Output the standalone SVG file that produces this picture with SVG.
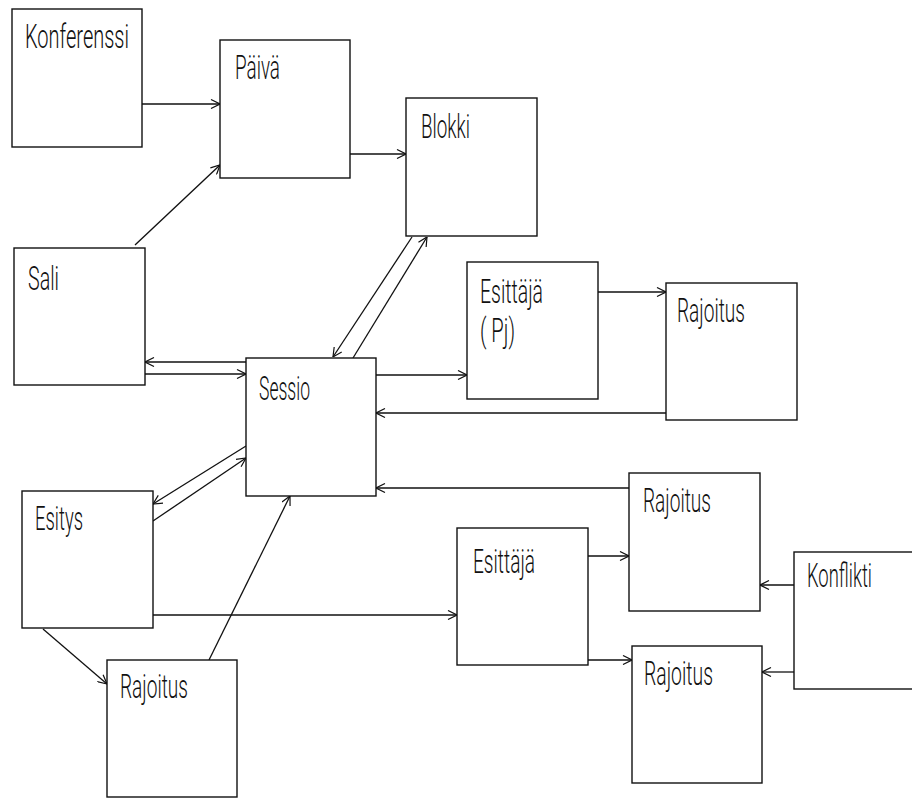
<svg xmlns="http://www.w3.org/2000/svg" width="912" height="801" viewBox="0 0 912 801">
<style>
.box{fill:#fff;stroke:#111;stroke-width:1.4}
.lbl{font-family:Roboto,"DejaVu Sans Condensed",sans-serif;font-weight:300;font-size:33px;fill:#111}
.c{fill:none;stroke:#111;stroke-width:1.3;marker-end:url(#a)}
</style>
<defs>
<marker id="a" viewBox="0 0 10 10" refX="10" refY="5" markerWidth="10" markerHeight="10" markerUnits="userSpaceOnUse" orient="auto">
<path d="M1,0.5 L10,5 L1,9.5" fill="none" stroke="#111" stroke-width="1.2"/>
</marker>
</defs>
<rect width="912" height="801" fill="#fff"/>
<g id="connectors">
<line class="c" x1="142" y1="104" x2="220" y2="104"/>
<line class="c" x1="135" y1="245" x2="220" y2="165"/>
<line class="c" x1="350" y1="154" x2="406" y2="154"/>
<line class="c" x1="412" y1="237" x2="333" y2="357"/>
<line class="c" x1="353" y1="358" x2="427" y2="237"/>
<line class="c" x1="246" y1="362" x2="145" y2="362"/>
<line class="c" x1="145" y1="374" x2="246" y2="374"/>
<line class="c" x1="376" y1="375" x2="467" y2="375"/>
<line class="c" x1="598" y1="292" x2="666" y2="292"/>
<line class="c" x1="666" y1="413" x2="376" y2="413"/>
<line class="c" x1="629" y1="488" x2="376" y2="488"/>
<line class="c" x1="246" y1="446" x2="153" y2="504"/>
<line class="c" x1="153" y1="521" x2="246" y2="458"/>
<line class="c" x1="153" y1="615" x2="457" y2="615"/>
<line class="c" x1="43" y1="629" x2="107" y2="684"/>
<line class="c" x1="209" y1="660" x2="290" y2="496"/>
<line class="c" x1="588" y1="556" x2="629" y2="556"/>
<line class="c" x1="588" y1="660" x2="632" y2="660"/>
<line class="c" x1="794" y1="585" x2="760" y2="585"/>
<line class="c" x1="794" y1="672" x2="762" y2="672"/>
</g>
<g id="konferenssi"><rect class="box" x="12" y="9" width="130" height="138"/><text class="lbl" x="25" y="48" textLength="104" lengthAdjust="spacingAndGlyphs">Konferenssi</text></g>
<g id="paiva"><rect class="box" x="220" y="40" width="130" height="138"/><text class="lbl" x="235" y="79" textLength="45" lengthAdjust="spacingAndGlyphs">Päivä</text></g>
<g id="blokki"><rect class="box" x="406" y="98" width="131" height="138"/><text class="lbl" x="421" y="138" textLength="49" lengthAdjust="spacingAndGlyphs">Blokki</text></g>
<g id="sali"><rect class="box" x="14" y="248" width="131" height="137"/><text class="lbl" x="28" y="290" textLength="31" lengthAdjust="spacingAndGlyphs">Sali</text></g>
<g id="sessio"><rect class="box" x="246" y="358" width="130" height="138"/><text class="lbl" x="259" y="400" textLength="51" lengthAdjust="spacingAndGlyphs">Sessio</text></g>
<g id="esittaja-pj"><rect class="box" x="467" y="262" width="131" height="137"/><text class="lbl" x="480" y="303" textLength="63" lengthAdjust="spacingAndGlyphs">Esittäjä</text><text class="lbl" x="480" y="342" textLength="35" lengthAdjust="spacingAndGlyphs">( Pj)</text></g>
<g id="rajoitus-1"><rect class="box" x="666" y="283" width="131" height="137"/><text class="lbl" x="677" y="322" textLength="68" lengthAdjust="spacingAndGlyphs">Rajoitus</text></g>
<g id="esitys"><rect class="box" x="22" y="491" width="131" height="137"/><text class="lbl" x="35" y="530" textLength="48" lengthAdjust="spacingAndGlyphs">Esitys</text></g>
<g id="rajoitus-2"><rect class="box" x="629" y="473" width="131" height="138"/><text class="lbl" x="643" y="512" textLength="68" lengthAdjust="spacingAndGlyphs">Rajoitus</text></g>
<g id="esittaja"><rect class="box" x="457" y="528" width="131" height="137"/><text class="lbl" x="473" y="573" textLength="62" lengthAdjust="spacingAndGlyphs">Esittäjä</text></g>
<g id="konflikti"><rect class="box" x="794" y="552" width="130" height="137"/><text class="lbl" x="807" y="587" textLength="65" lengthAdjust="spacingAndGlyphs">Konflikti</text></g>
<g id="rajoitus-3"><rect class="box" x="632" y="646" width="130" height="137"/><text class="lbl" x="644" y="685" textLength="69" lengthAdjust="spacingAndGlyphs">Rajoitus</text></g>
<g id="rajoitus-4"><rect class="box" x="107" y="660" width="130" height="137"/><text class="lbl" x="120" y="698" textLength="68" lengthAdjust="spacingAndGlyphs">Rajoitus</text></g>
</svg>
